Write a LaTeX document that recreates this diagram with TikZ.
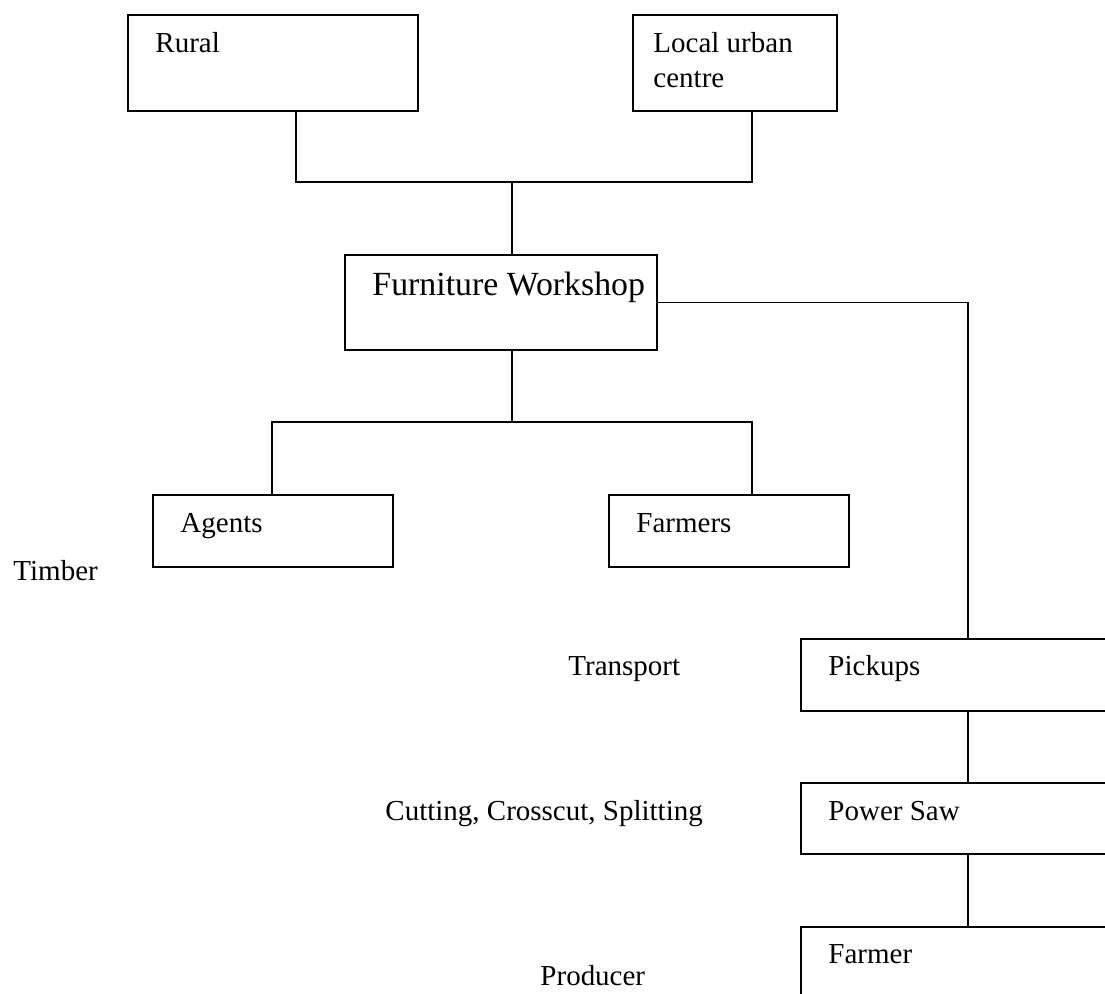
\documentclass[tikz,border=0pt]{standalone}
\usepackage{fontspec}
\setmainfont{Liberation Serif}
\def\px{0.414pt}
\tikzset{
	box/.style = {draw, line width = 0.9pt, rectangle, inner sep = 0pt, anchor = north west},
	txt/.style = {anchor = base west, inner sep = 0pt, font = \fontsize{12}{14.5}\selectfont},
	link/.style = {line width = 0.7pt}
}
\begin{document}
\begin{tikzpicture}[x = 0.414pt, y = -0.414pt]
	\useasboundingbox (0, 0) rectangle (1105, 993);
	\clip (0, 0) rectangle (1105, 993);
	%Markets
		\node[box, minimum width = 290*\px, minimum height = 96*\px] (rural) at (127, 14) {};
		\node[txt] (ruraltxt) at (155, 52) {Rural};
		\node[box, minimum width = 204*\px, minimum height = 96*\px] (local) at (632, 14) {};
		\node[txt, anchor = north west, align = left] (localtxt) at (653, 32) {Local urban\\centre};
	%Workshop
		\node[box, minimum width = 312*\px, minimum height = 95*\px] (workshop) at (344, 254) {};
		\node[txt, font = \fontsize{14}{17}\selectfont] (workshoptxt) at (372, 295) {Furniture Workshop};
	%Timber sources
		\node[box, minimum width = 240*\px, minimum height = 72*\px] (agents) at (152, 494) {};
		\node[txt] (agentstxt) at (180, 532) {Agents};
		\node[box, minimum width = 240*\px, minimum height = 72*\px] (farmers) at (608, 494) {};
		\node[txt] (farmerstxt) at (636, 532) {Farmers};
		\node[txt] (timber) at (13, 580) {Timber};
	%Chain
		\node[box, minimum width = 340*\px, minimum height = 72*\px] (pickups) at (800, 638) {};
		\node[txt] (pickupstxt) at (828, 675) {Pickups};
		\node[txt] (transport) at (568, 675) {Transport};
		\node[box, minimum width = 340*\px, minimum height = 71*\px] (powersaw) at (800, 782) {};
		\node[txt] (powersawtxt) at (828, 820) {Power Saw};
		\node[txt] (cutting) at (385, 820) {Cutting, Crosscut, Splitting};
		\node[box, minimum width = 340*\px, minimum height = 100*\px] (farmer) at (800, 926) {};
		\node[txt] (farmertxt) at (828, 963) {Farmer};
		\node[txt] (producer) at (540, 985) {Producer};
	%Connectors
		\coordinate (rl) at (296, 182);
		\coordinate (rr) at (752, 182);
		\coordinate (rm) at (512, 182);
		\draw[link] (rural.south -| rl) -- (rl) -- (rr) -- (local.south -| rr);
		\draw[link] (rm) -- (rm |- workshop.north);
		\coordinate (bl) at (272, 422);
		\coordinate (br) at (752, 422);
		\coordinate (bm) at (512, 422);
		\draw[link] (workshop.south -| bm) -- (bm);
		\draw[link] (agents.north -| bl) -- (bl) -- (br) -- (farmers.north -| br);
		\coordinate (cr) at (968, 302);
		\draw[link] (workshop.east) -- (workshop.east -| cr) -- (pickups.north -| cr);
		\draw[link] (pickups.south -| cr) -- (powersaw.north -| cr);
		\draw[link] (powersaw.south -| cr) -- (farmer.north -| cr);
\end{tikzpicture}
\end{document}
